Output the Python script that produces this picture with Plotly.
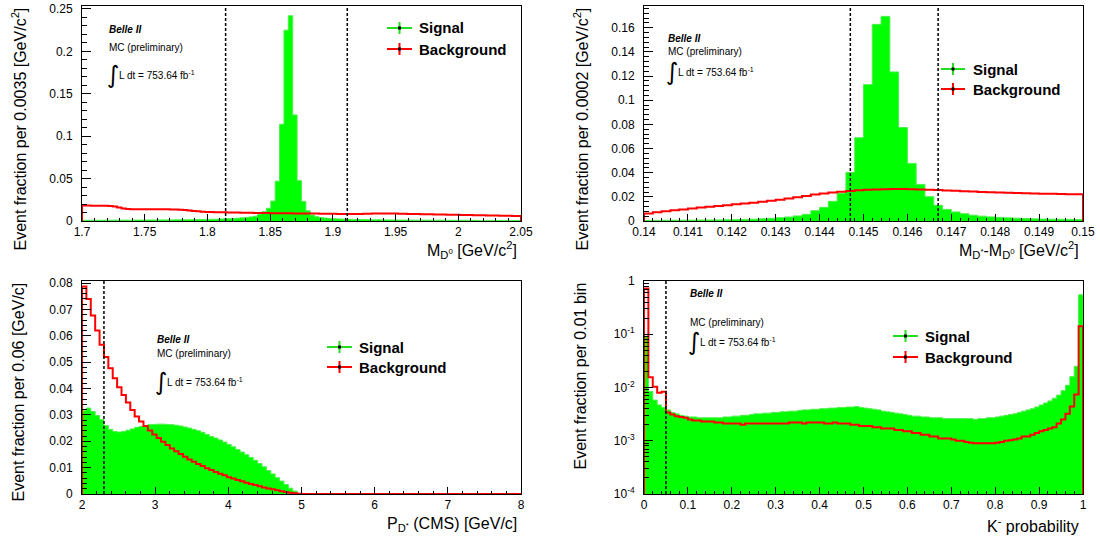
import numpy as np
import plotly.graph_objects as go

FIG_W, FIG_H = 1100, 538
FONT = "Liberation Sans, Arial, Helvetica, sans-serif"

SIG_FILL = "#00ff00"
SIG_LINE = "#4cf04c"
BKG_LINE = "#ff0000"

# ---------------- M(D0) ----------------
MD0_LO, MD0_HI = 1.7, 2.05
MD0_SIGNAL = [
    0.0008, 0.0008, 0.0008, 0.0009, 0.0009, 0.0009, 0.0009, 0.0010, 0.0010, 0.0010,
    0.0010, 0.0010, 0.0011, 0.0011, 0.0011, 0.0012, 0.0012, 0.0012, 0.0013, 0.0013,
    0.0013, 0.0014, 0.0014, 0.0015, 0.0015, 0.0016, 0.0017, 0.0018, 0.0019, 0.0020,
    0.0021, 0.0023, 0.0025, 0.0027, 0.0030, 0.0033, 0.0037, 0.0042, 0.0048, 0.0056,
    0.0080, 0.0110, 0.0150, 0.0235, 0.0470, 0.1140, 0.2250, 0.2420, 0.1250, 0.0475,
    0.0230, 0.0120, 0.0070, 0.0050, 0.0040, 0.0034, 0.0030, 0.0027, 0.0024, 0.0022,
    0.0020, 0.0019, 0.0018, 0.0017, 0.0016, 0.0015, 0.0014, 0.0014, 0.0013, 0.0013,
    0.0012, 0.0012, 0.0011, 0.0011, 0.0011, 0.0010, 0.0010, 0.0010, 0.0010, 0.0009,
    0.0009, 0.0009, 0.0009, 0.0009, 0.0008, 0.0008, 0.0008, 0.0008, 0.0008, 0.0008,
    0.0007, 0.0007, 0.0007, 0.0007, 0.0007, 0.0007, 0.0007, 0.0006, 0.0006, 0.0006,
]
MD0_BACKGROUND = [
    0.0183, 0.0182, 0.0181, 0.0181, 0.0180, 0.0179, 0.0177, 0.0170, 0.0158, 0.0147,
    0.0142, 0.0140, 0.0139, 0.0138, 0.0138, 0.0138, 0.0139, 0.0139, 0.0138, 0.0138,
    0.0137, 0.0136, 0.0134, 0.0130, 0.0125, 0.0119, 0.0114, 0.0110, 0.0107, 0.0105,
    0.0104, 0.0103, 0.0102, 0.0101, 0.0100, 0.0099, 0.0098, 0.0097, 0.0096, 0.0095,
    0.0094, 0.0094, 0.0093, 0.0092, 0.0091, 0.0091, 0.0090, 0.0090, 0.0089, 0.0089,
    0.0088, 0.0088, 0.0087, 0.0087, 0.0086, 0.0086, 0.0085, 0.0085, 0.0084, 0.0084,
    0.0083, 0.0083, 0.0083, 0.0084, 0.0085, 0.0086, 0.0087, 0.0088, 0.0088, 0.0088,
    0.0088, 0.0087, 0.0086, 0.0085, 0.0084, 0.0083, 0.0082, 0.0081, 0.0080, 0.0079,
    0.0078, 0.0077, 0.0076, 0.0075, 0.0074, 0.0073, 0.0072, 0.0071, 0.0070, 0.0069,
    0.0068, 0.0067, 0.0066, 0.0065, 0.0064, 0.0063, 0.0062, 0.0061, 0.0060, 0.0059,
]
MD0_CUTS = [1.8145, 1.9115]
MD0_XTICKS = [1.7, 1.75, 1.8, 1.85, 1.9, 1.95, 2.0, 2.05]
MD0_XLABELS = ["1.7", "1.75", "1.8", "1.85", "1.9", "1.95", "2", "2.05"]
MD0_YTICKS = [0, 0.05, 0.1, 0.15, 0.2, 0.25]
MD0_YLABELS = ["0", "0.05", "0.1", "0.15", "0.2", "0.25"]

# ---------------- M(D*) - M(D0) ----------------
DM_LO, DM_HI = 0.14, 0.15
DM_SIGNAL = [
    0.0005, 0.0005, 0.0006, 0.0006, 0.0007, 0.0007, 0.0008, 0.0008, 0.0009, 0.0010,
    0.0011, 0.0013, 0.0015, 0.0018, 0.0022, 0.0027, 0.0033, 0.0042, 0.0055, 0.0085,
    0.0113, 0.0163, 0.0229, 0.0402, 0.0689, 0.1129, 0.1628, 0.1694, 0.1234, 0.0774,
    0.0477, 0.0303, 0.0201, 0.0130, 0.0096, 0.0075, 0.0060, 0.0048, 0.0040, 0.0034,
    0.0030, 0.0026, 0.0023, 0.0020, 0.0018, 0.0016, 0.0015, 0.0014, 0.0013, 0.0012,
]
DM_BACKGROUND = [
    0.0063, 0.0072, 0.0080, 0.0088, 0.0096, 0.0104, 0.0111, 0.0118, 0.0125, 0.0131,
    0.0138, 0.0145, 0.0152, 0.0159, 0.0167, 0.0176, 0.0186, 0.0197, 0.0208, 0.0219,
    0.0228, 0.0235, 0.0242, 0.0248, 0.0254, 0.0258, 0.0261, 0.0263, 0.0264, 0.0264,
    0.0263, 0.0261, 0.0259, 0.0256, 0.0253, 0.0250, 0.0247, 0.0244, 0.0241, 0.0238,
    0.0235, 0.0233, 0.0231, 0.0229, 0.0228, 0.0226, 0.0225, 0.0224, 0.0222, 0.0221,
]
DM_CUTS = [0.1447, 0.1467]
DM_XTICKS = [0.14, 0.141, 0.142, 0.143, 0.144, 0.145, 0.146, 0.147, 0.148, 0.149, 0.15]
DM_XLABELS = ["0.14", "0.141", "0.142", "0.143", "0.144", "0.145", "0.146", "0.147",
              "0.148", "0.149", "0.15"]
DM_YTICKS = [0, 0.02, 0.04, 0.06, 0.08, 0.1, 0.12, 0.14, 0.16]
DM_YLABELS = ["0", "0.02", "0.04", "0.06", "0.08", "0.1", "0.12", "0.14", "0.16"]

# ---------------- p(D*) in CMS ----------------
PD_LO, PD_HI = 2.0, 8.0
PD_SIGNAL = [
    0.0316, 0.0326, 0.0313, 0.0298, 0.0282, 0.0260, 0.0245, 0.0237, 0.0235, 0.0237,
    0.0242, 0.0247, 0.0253, 0.0256, 0.0260, 0.0263, 0.0264, 0.0265, 0.0265, 0.0264,
    0.0263, 0.0261, 0.0258, 0.0254, 0.0250, 0.0245, 0.0240, 0.0234, 0.0226, 0.0218,
    0.0212, 0.0205, 0.0197, 0.0188, 0.0179, 0.0169, 0.0159, 0.0149, 0.0139, 0.0128,
    0.0116, 0.0103, 0.0089, 0.0076, 0.0062, 0.0049, 0.0036, 0.0022, 0.0011, 0.0002,
] + [0.0] * 50
PD_BACKGROUND = [
    0.0787, 0.0740, 0.0677, 0.0620, 0.0566, 0.0520, 0.0477, 0.0439, 0.0405, 0.0376,
    0.0347, 0.0319, 0.0294, 0.0275, 0.0258, 0.0241, 0.0226, 0.0212, 0.0198, 0.0186,
    0.0173, 0.0162, 0.0152, 0.0141, 0.0131, 0.0122, 0.0114, 0.0106, 0.0098, 0.0091,
    0.0083, 0.0077, 0.0071, 0.0064, 0.0059, 0.0053, 0.0048, 0.0043, 0.0038, 0.0034,
    0.0029, 0.0025, 0.0021, 0.0018, 0.0014, 0.0010, 0.0008, 0.0005, 0.0003, 0.0001,
] + [0.0] * 50
PD_CUTS = [2.3]
PD_XTICKS = [2, 3, 4, 5, 6, 7, 8]
PD_XLABELS = ["2", "3", "4", "5", "6", "7", "8"]
PD_YTICKS = [0, 0.01, 0.02, 0.03, 0.04, 0.05, 0.06, 0.07, 0.08]
PD_YLABELS = ["0", "0.01", "0.02", "0.03", "0.04", "0.05", "0.06", "0.07", "0.08"]

# ---------------- kaon probability ----------------
KP_LO, KP_HI = 0.0, 1.0
KP_SIGNAL = [
    0.0900, 0.0084, 0.0058, 0.0047, 0.0042, 0.0038, 0.0034, 0.0032, 0.0030, 0.0029,
    0.0028, 0.0028, 0.0027, 0.0027, 0.0027, 0.0027, 0.0027, 0.0027, 0.0028, 0.0028,
    0.0029, 0.0029, 0.0030, 0.0030, 0.0031, 0.0032, 0.0032, 0.0033, 0.0033, 0.0034,
    0.0034, 0.0035, 0.0035, 0.0036, 0.0036, 0.0037, 0.0038, 0.0038, 0.0039, 0.0039,
    0.0040, 0.0040, 0.0041, 0.0041, 0.0042, 0.0042, 0.0043, 0.0043, 0.0044, 0.0042,
    0.0041, 0.0040, 0.0039, 0.0038, 0.0036, 0.0035, 0.0034, 0.0033, 0.0032, 0.0031,
    0.0030, 0.0029, 0.0029, 0.0028, 0.0028, 0.0027, 0.0027, 0.0027, 0.0026, 0.0026,
    0.0026, 0.0026, 0.0026, 0.0026, 0.0026, 0.0025, 0.0026, 0.0026, 0.0027, 0.0027,
    0.0028, 0.0029, 0.0030, 0.0031, 0.0032, 0.0034, 0.0036, 0.0038, 0.0040, 0.0043,
    0.0047, 0.0051, 0.0056, 0.0063, 0.0072, 0.0087, 0.0110, 0.0160, 0.0250, 0.5500,
]
KP_BACKGROUND = [
    0.7200, 0.0155, 0.0103, 0.0080, 0.0083, 0.0034, 0.0031, 0.0029, 0.0028, 0.0027,
    0.0025, 0.0024, 0.0024, 0.0023, 0.0023, 0.0023, 0.0022, 0.0022, 0.0021, 0.0021,
    0.0021, 0.0021, 0.0020, 0.0021, 0.0021, 0.0021, 0.0021, 0.0021, 0.0021, 0.0021,
    0.0021, 0.0021, 0.0021, 0.0022, 0.0022, 0.0022, 0.0021, 0.0022, 0.0022, 0.0022,
    0.0022, 0.0021, 0.0021, 0.0022, 0.0021, 0.0021, 0.0021, 0.0020, 0.0020, 0.0019,
    0.0019, 0.0019, 0.0018, 0.0018, 0.0017, 0.0017, 0.0017, 0.0016, 0.0016, 0.0015,
    0.0015, 0.0014, 0.0014, 0.0013, 0.0013, 0.0012, 0.0012, 0.0011, 0.0011, 0.0011,
    0.00105, 0.0010, 0.0010, 0.00095, 0.00092, 0.0009, 0.0009, 0.0009, 0.0009, 0.0009,
    0.00092, 0.00095, 0.0010, 0.00102, 0.00105, 0.0011, 0.0012, 0.0012, 0.0013, 0.0014,
    0.0015, 0.0016, 0.0017, 0.0018, 0.0021, 0.0025, 0.0032, 0.0044, 0.0074, 0.1420,
]
KP_CUTS = [0.05]
KP_XTICKS = [0, 0.1, 0.2, 0.3, 0.4, 0.5, 0.6, 0.7, 0.8, 0.9, 1.0]
KP_XLABELS = ["0", "0.1", "0.2", "0.3", "0.4", "0.5", "0.6", "0.7", "0.8", "0.9", "1"]
KP_YTICKS = [1e-4, 1e-3, 1e-2, 1e-1, 1]
KP_YLABELS = ["10<sup>-4</sup>", "10<sup>-3</sup>", "10<sup>-2</sup>", "10<sup>-1</sup>", "1"]
LOG_FLOOR = 1e-7

# ---------------- layout helpers ----------------
def fx(px):
    return px / FIG_W


def fy(py):
    return 1 - py / FIG_H


def step_path(lo, hi, values, floor=0.0):
    edges = np.linspace(lo, hi, len(values) + 1)
    xs = [edges[0]] + list(edges[:-1]) + [edges[-1], edges[-1]]
    ys = [floor] + list(values) + [values[-1], floor]
    return xs, ys


def log_minor(lo_exp, hi_exp):
    vals = []
    for e in range(lo_exp, hi_exp):
        for k in range(2, 10):
            vals.append(k * 10.0 ** e)
    return vals


# frames in pixels: left, right, top, bottom
PANELS = [
    dict(name="1", frame=(82, 521, 6, 221), lo=MD0_LO, hi=MD0_HI,
         sig=MD0_SIGNAL, bkg=MD0_BACKGROUND, cuts=MD0_CUTS, yrange=[0, 0.2535], log=False,
         xt=(MD0_XTICKS, MD0_XLABELS), yt=(MD0_YTICKS, MD0_YLABELS),
         xminor=np.arange(1.7, 2.0501, 0.01), yminor=np.arange(0, 0.2536, 0.01)),
    dict(name="2", frame=(644, 1083, 6, 221), lo=DM_LO, hi=DM_HI,
         sig=DM_SIGNAL, bkg=DM_BACKGROUND, cuts=DM_CUTS, yrange=[0, 0.178], log=False,
         xt=(DM_XTICKS, DM_XLABELS), yt=(DM_YTICKS, DM_YLABELS),
         xminor=np.arange(0.14, 0.15001, 0.0002), yminor=np.arange(0, 0.1781, 0.004)),
    dict(name="3", frame=(82, 521, 281, 494), lo=PD_LO, hi=PD_HI,
         sig=PD_SIGNAL, bkg=PD_BACKGROUND, cuts=PD_CUTS, yrange=[0, 0.0808], log=False,
         xt=(PD_XTICKS, PD_XLABELS), yt=(PD_YTICKS, PD_YLABELS),
         xminor=np.arange(2, 8.001, 0.2), yminor=np.arange(0, 0.0809, 0.002)),
    dict(name="4", frame=(644, 1083, 281, 494), lo=KP_LO, hi=KP_HI,
         sig=KP_SIGNAL, bkg=KP_BACKGROUND, cuts=KP_CUTS, yrange=[-4, 0], log=True,
         xt=(KP_XTICKS, KP_XLABELS), yt=(KP_YTICKS, KP_YLABELS),
         xminor=np.arange(0, 1.0001, 0.02), yminor=log_minor(-4, 0)),
]

fig = go.Figure()
layout = dict(
    width=FIG_W, height=FIG_H,
    margin=dict(l=0, r=0, t=0, b=0, autoexpand=False),
    paper_bgcolor="white", plot_bgcolor="white",
    showlegend=False,
    font=dict(family=FONT, color="black", size=12),
)
shapes = []
annotations = []

for p in PANELS:
    n = p["name"]
    suffix = "" if n == "1" else n
    xa, ya = "x" + suffix, "y" + suffix
    left, right, top, bottom = p["frame"]
    floor = LOG_FLOOR if p["log"] else 0.0

    sx, sy = step_path(p["lo"], p["hi"], p["sig"], floor)
    fig.add_trace(go.Scatter(
        x=sx, y=sy, mode="lines", line=dict(color=SIG_LINE, width=1, shape="hv"),
        fill="toself", fillcolor=SIG_FILL, xaxis=xa, yaxis=ya, hoverinfo="skip"))
    bx, by = step_path(p["lo"], p["hi"], p["bkg"], floor)
    fig.add_trace(go.Scatter(
        x=bx, y=by, mode="lines", line=dict(color=BKG_LINE, width=2, shape="hv"),
        xaxis=xa, yaxis=ya, hoverinfo="skip"))

    common = dict(
        automargin=False,
        showline=True, linecolor="black", linewidth=1, mirror=True,
        showgrid=False, zeroline=False, ticks="inside", tickcolor="black",
        tickwidth=1, tickfont=dict(family=FONT, size=12, color="black"),
        tickmode="array",
    )
    layout["xaxis" + suffix] = dict(
        common, domain=[fx(left), fx(right)], range=[p["lo"], p["hi"]],
        anchor=ya, tickvals=p["xt"][0], ticktext=p["xt"][1], ticklen=7,
        ticklabelstandoff=0,
        minor=dict(tickmode="array", tickvals=list(p["xminor"]), ticks="inside",
                   ticklen=3.5, tickcolor="black", tickwidth=1),
    )
    layout["yaxis" + suffix] = dict(
        common, domain=[fy(bottom), fy(top)], range=p["yrange"],
        type="log" if p["log"] else "linear",
        anchor=xa, tickvals=p["yt"][0], ticktext=p["yt"][1], ticklen=9,
        ticklabelstandoff=6,
        minor=dict(tickmode="array", tickvals=list(p["yminor"]), ticks="inside",
                   ticklen=5, tickcolor="black", tickwidth=1),
    )

    for c in p["cuts"]:
        shapes.append(dict(type="line", xref=xa, yref=ya + " domain", x0=c, x1=c, y0=0, y1=1,
                           line=dict(color="black", width=1.5, dash="3px,2px"), layer="above"))

# axis titles
Y_TITLES = [
    ("Event fraction per 0.0035 [GeV/c<sup>2</sup>]", 19, 6),
    ("Event fraction per 0.0002 [GeV/c<sup>2</sup>]", 581, 6),
    ("Event fraction per 0.06 [GeV/c]", 18, 281),
    ("Event fraction per 0.01 bin", 580, 281),
]
for text, x, y in Y_TITLES:
    annotations.append(dict(text=text, x=fx(x), y=fy(y), xref="paper", yref="paper",
                            xanchor="center", yanchor="top", textangle=-90, showarrow=False,
                            font=dict(family=FONT, size=16, color="black")))

X_TITLES = [
    ("M<sub>D<sup>0</sup></sub> [GeV/c<sup>2</sup>]", 519, 250),
    ("M<sub>D<sup>*</sup></sub>-M<sub>D<sup>0</sup></sub> [GeV/c<sup>2</sup>]", 1081, 250),
    ("P<sub>D<sup>*</sup></sub> (CMS) [GeV/c]", 519, 524),
    ("K<sup>-</sup> probability", 1081, 525),
]
for text, x, y in X_TITLES:
    annotations.append(dict(text=text, x=fx(x), y=fy(y), xref="paper", yref="paper",
                            xanchor="right", yanchor="middle", showarrow=False,
                            font=dict(family=FONT, size=16, color="black")))

# experiment labels: (x, y of "Belle II", y of "MC", y of luminosity line)
LABELS = [
    (107, 29, 47, 75),
    (666, 38, 51, 72),
    (155, 339, 353, 382),
    (688, 293, 322, 342),
]
for x, yb, ym, yl in LABELS:
    annotations.append(dict(text="<b><i>Belle II</i></b>", x=fx(x), y=fy(yb),
                            xref="paper", yref="paper", xanchor="left", yanchor="middle",
                            showarrow=False, font=dict(family=FONT, size=10, color="black")))
    annotations.append(dict(text="MC (preliminary)", x=fx(x), y=fy(ym),
                            xref="paper", yref="paper", xanchor="left", yanchor="middle",
                            showarrow=False, font=dict(family=FONT, size=10, color="black")))
    annotations.append(dict(text="\u222b", x=fx(x - 2), y=fy(yl),
                            xref="paper", yref="paper", xanchor="left", yanchor="middle",
                            showarrow=False,
                            font=dict(family="DejaVu Sans", size=24, color="black")))
    annotations.append(dict(text="L dt = 753.64 fb<sup>-1</sup>", x=fx(x + 10), y=fy(yl),
                            xref="paper", yref="paper", xanchor="left", yanchor="middle",
                            showarrow=False, font=dict(family=FONT, size=10, color="black")))

# legends: glyph x-span, y of first and second row, text start
LEGENDS = [
    (387, 412, 28, 49, 417),
    (941, 965, 69, 89, 971),
    (327, 352, 347, 367, 357),
    (893, 918, 336, 357, 923),
]
for x0, x1, ys, yb, xt in LEGENDS:
    for y, col, label in ((ys, "#22dd22", "Signal"), (yb, BKG_LINE, "Background")):
        xc = (x0 + x1) / 2
        shapes.append(dict(type="line", xref="paper", yref="paper", x0=fx(x0), x1=fx(x1),
                           y0=fy(y), y1=fy(y), line=dict(color=col, width=2)))
        shapes.append(dict(type="line", xref="paper", yref="paper", x0=fx(xc), x1=fx(xc),
                           y0=fy(y - 6), y1=fy(y + 6), line=dict(color=col, width=2)))
        shapes.append(dict(type="rect", xref="paper", yref="paper", x0=fx(xc - 1.5),
                           x1=fx(xc + 1.5), y0=fy(y - 1.5), y1=fy(y + 1.5),
                           fillcolor="black", line=dict(width=0)))
        annotations.append(dict(text="<b>%s</b>" % label, x=fx(xt), y=fy(y),
                                xref="paper", yref="paper", xanchor="left", yanchor="middle",
                                showarrow=False, font=dict(family=FONT, size=15, color="black")))

layout["shapes"] = shapes
layout["annotations"] = annotations
fig.update_layout(**layout)
fig.write_html("out.html")
